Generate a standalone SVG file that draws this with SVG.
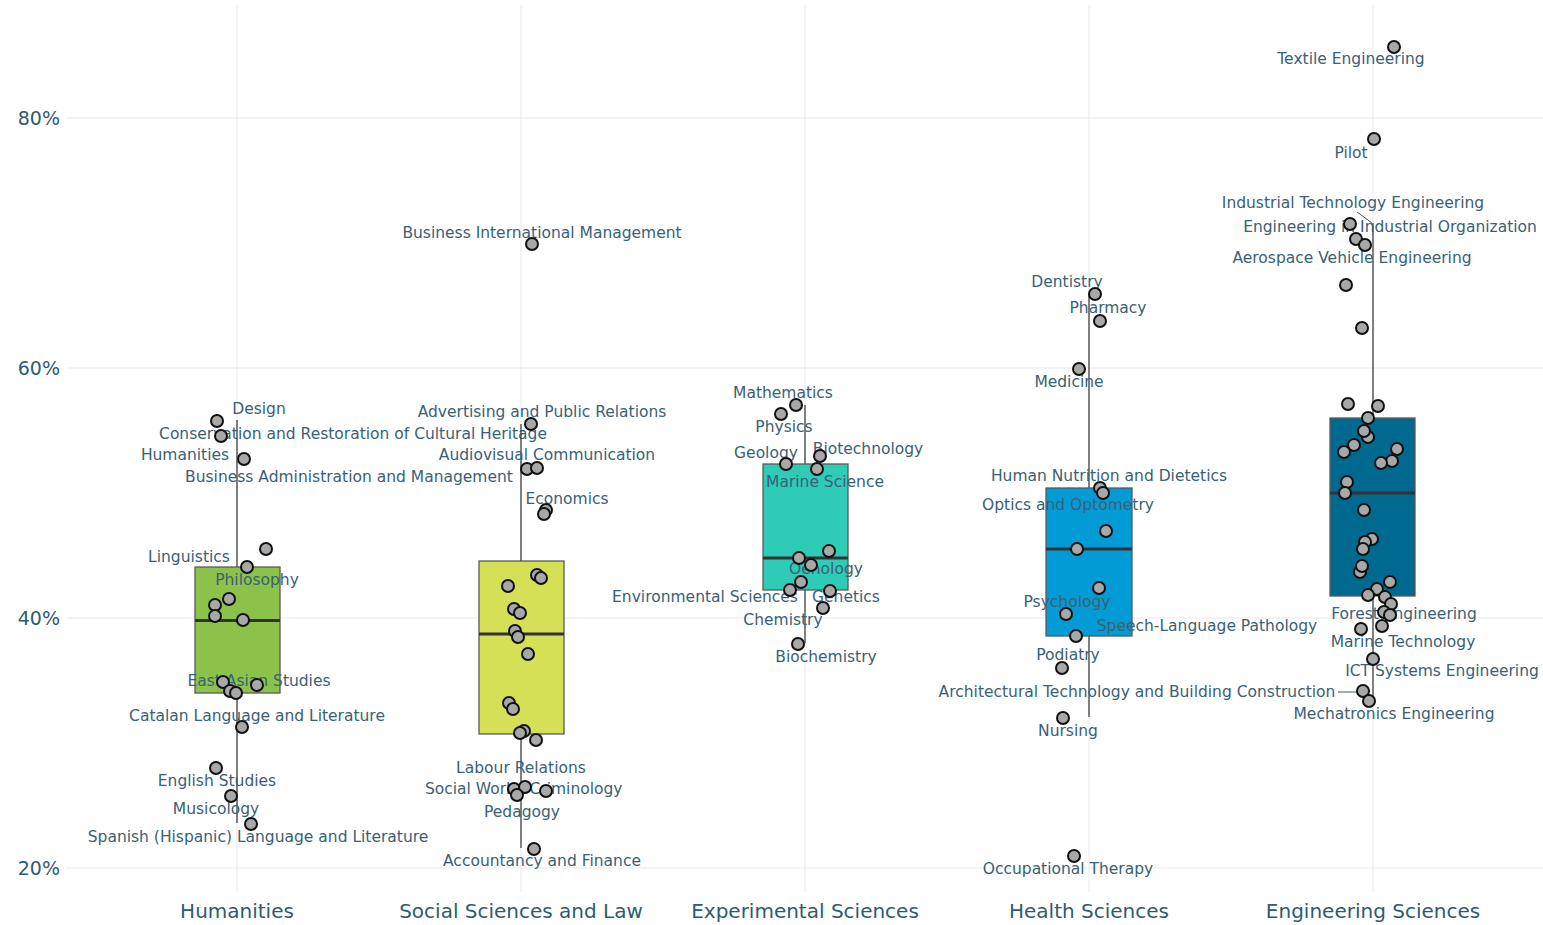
<svg xmlns="http://www.w3.org/2000/svg" width="1543" height="925" viewBox="0 0 1543 925">
<style>
.grid{stroke:#e9e9e9;stroke-width:1;fill:none}
.box{stroke:#5a5a5a;stroke-width:1.3}
.wh{stroke:#333;stroke-width:1.2;fill:none}
.med{stroke:#333;stroke-width:3}
.pt{fill:#a8a8a8;stroke:#111;stroke-width:2}
.lbl{font-family:"DejaVu Sans",sans-serif;font-size:15.5px;fill:#3a6175;text-anchor:middle}
.tick{font-family:"DejaVu Sans",sans-serif;font-size:19px;fill:#2f5b70;text-anchor:end}
.cat{font-family:"DejaVu Sans",sans-serif;font-size:20px;fill:#2f5b70;text-anchor:middle}
.lead{stroke:#3a6175;stroke-width:1;fill:none}
</style>
<rect width="1543" height="925" fill="#fff"/>
<g id="grid">
<path class="grid" d="M67 118H1543M67 368H1543M67 618H1543M67 868H1543M237 5V892M521 5V892M805 5V892M1089 5V892M1373 5V892"/>
</g>
<g id="axes">
<text class="tick" x="60" y="125">80%</text>
<text class="tick" x="60" y="375">60%</text>
<text class="tick" x="60" y="625">40%</text>
<text class="tick" x="60" y="875">20%</text>
<text class="cat" x="237" y="918">Humanities</text>
<text class="cat" x="521" y="918">Social Sciences and Law</text>
<text class="cat" x="805" y="918">Experimental Sciences</text>
<text class="cat" x="1089" y="918">Health Sciences</text>
<text class="cat" x="1373" y="918">Engineering Sciences</text>
</g>
<g id="connectors">
<path class="lead" d="M1357 212L1372 223"/>
<path class="lead" d="M1338 692H1358"/>
</g>
<g id="humanities">
<path class="wh" d="M237 420V567M237 693V823"/>
<rect class="box" x="195" y="567" width="85" height="126" fill="#8bc34a"/>
<path class="med" d="M195 620.5H280"/>
<text class="lbl" x="259" y="414">Design</text>
<text class="lbl" x="353" y="439">Conservation and Restoration of Cultural Heritage</text>
<text class="lbl" x="185" y="460">Humanities</text>
<text class="lbl" x="349" y="482">Business Administration and Management</text>
<text class="lbl" x="189" y="562">Linguistics</text>
<text class="lbl" x="257" y="585">Philosophy</text>
<text class="lbl" x="259" y="686">East Asian Studies</text>
<text class="lbl" x="257" y="721">Catalan Language and Literature</text>
<text class="lbl" x="217" y="786">English Studies</text>
<text class="lbl" x="216" y="814">Musicology</text>
<text class="lbl" x="258" y="842">Spanish (Hispanic) Language and Literature</text>
<g>
<circle class="pt" cx="217" cy="421" r="6"/>
<circle class="pt" cx="221" cy="436" r="6"/>
<circle class="pt" cx="244" cy="459" r="6"/>
<circle class="pt" cx="266" cy="549" r="6"/>
<circle class="pt" cx="247" cy="567" r="6"/>
<circle class="pt" cx="229" cy="599" r="6"/>
<circle class="pt" cx="215" cy="605" r="6"/>
<circle class="pt" cx="215" cy="616" r="6"/>
<circle class="pt" cx="243" cy="620" r="6"/>
<circle class="pt" cx="223" cy="682" r="6"/>
<circle class="pt" cx="257" cy="685" r="6"/>
<circle class="pt" cx="230" cy="691" r="6"/>
<circle class="pt" cx="236" cy="693" r="6"/>
<circle class="pt" cx="242" cy="727" r="6"/>
<circle class="pt" cx="216" cy="768" r="6"/>
<circle class="pt" cx="231" cy="796" r="6"/>
<circle class="pt" cx="251" cy="824" r="6"/>
</g>
</g>
<g id="social-sciences">
<path class="wh" d="M521 424V561M521 734V848"/>
<rect class="box" x="479" y="561" width="85" height="173" fill="#d4e157"/>
<path class="med" d="M479 634H564"/>
<text class="lbl" x="542" y="238">Business International Management</text>
<text class="lbl" x="542" y="417">Advertising and Public Relations</text>
<text class="lbl" x="547" y="460">Audiovisual Communication</text>
<text class="lbl" x="567" y="504">Economics</text>
<text class="lbl" x="521" y="773">Labour Relations</text>
<text class="lbl" x="470" y="794">Social Work</text>
<text class="lbl" x="576" y="794">Criminology</text>
<text class="lbl" x="522" y="817">Pedagogy</text>
<text class="lbl" x="542" y="866">Accountancy and Finance</text>
<g>
<circle class="pt" cx="532" cy="244" r="6"/>
<circle class="pt" cx="531" cy="424" r="6"/>
<circle class="pt" cx="527" cy="469" r="6"/>
<circle class="pt" cx="537" cy="468" r="6"/>
<circle class="pt" cx="546" cy="510" r="6"/>
<circle class="pt" cx="544" cy="514" r="6"/>
<circle class="pt" cx="537" cy="575" r="6"/>
<circle class="pt" cx="541" cy="578" r="6"/>
<circle class="pt" cx="508" cy="586" r="6"/>
<circle class="pt" cx="514" cy="609" r="6"/>
<circle class="pt" cx="520" cy="613" r="6"/>
<circle class="pt" cx="515" cy="631" r="6"/>
<circle class="pt" cx="518" cy="637" r="6"/>
<circle class="pt" cx="528" cy="654" r="6"/>
<circle class="pt" cx="509" cy="703" r="6"/>
<circle class="pt" cx="513" cy="709" r="6"/>
<circle class="pt" cx="524" cy="731" r="6"/>
<circle class="pt" cx="520" cy="733" r="6"/>
<circle class="pt" cx="536" cy="740" r="6"/>
<circle class="pt" cx="514" cy="789" r="6"/>
<circle class="pt" cx="525" cy="787" r="6"/>
<circle class="pt" cx="546" cy="791" r="6"/>
<circle class="pt" cx="517" cy="795" r="6"/>
<circle class="pt" cx="534" cy="849" r="6"/>
</g>
</g>
<g id="experimental-sciences">
<path class="wh" d="M805 405V464M805 590V643"/>
<rect class="box" x="763" y="464" width="85" height="126" fill="#2ecbb7"/>
<path class="med" d="M763 558H848"/>
<text class="lbl" x="783" y="398">Mathematics</text>
<text class="lbl" x="784" y="432">Physics</text>
<text class="lbl" x="766" y="458">Geology</text>
<text class="lbl" x="868" y="454">Biotechnology</text>
<text class="lbl" x="825" y="487">Marine Science</text>
<text class="lbl" x="826" y="574">Oenology</text>
<text class="lbl" x="705" y="602">Environmental Sciences</text>
<text class="lbl" x="846" y="602">Genetics</text>
<text class="lbl" x="783" y="625">Chemistry</text>
<text class="lbl" x="826" y="662">Biochemistry</text>
<g>
<circle class="pt" cx="796" cy="405" r="6"/>
<circle class="pt" cx="781" cy="414" r="6"/>
<circle class="pt" cx="786" cy="464" r="6"/>
<circle class="pt" cx="820" cy="456" r="6"/>
<circle class="pt" cx="817" cy="469" r="6"/>
<circle class="pt" cx="829" cy="551" r="6"/>
<circle class="pt" cx="799" cy="558" r="6"/>
<circle class="pt" cx="811" cy="565" r="6"/>
<circle class="pt" cx="801" cy="582" r="6"/>
<circle class="pt" cx="790" cy="590" r="6"/>
<circle class="pt" cx="830" cy="591" r="6"/>
<circle class="pt" cx="823" cy="608" r="6"/>
<circle class="pt" cx="798" cy="644" r="6"/>
</g>
</g>
<g id="health-sciences">
<path class="wh" d="M1089 293V488M1089 636V717"/>
<rect class="box" x="1046" y="488" width="86" height="148" fill="#039bd5"/>
<path class="med" d="M1046 549H1132"/>
<text class="lbl" x="1067" y="287">Dentistry</text>
<text class="lbl" x="1108" y="313">Pharmacy</text>
<text class="lbl" x="1069" y="387">Medicine</text>
<text class="lbl" x="1109" y="481">Human Nutrition and Dietetics</text>
<text class="lbl" x="1068" y="510">Optics and Optometry</text>
<text class="lbl" x="1067" y="607">Psychology</text>
<text class="lbl" x="1207" y="631">Speech-Language Pathology</text>
<text class="lbl" x="1068" y="660">Podiatry</text>
<text class="lbl" x="1137" y="697">Architectural Technology and Building Construction</text>
<text class="lbl" x="1068" y="736">Nursing</text>
<text class="lbl" x="1068" y="874">Occupational Therapy</text>
<g>
<circle class="pt" cx="1095" cy="294" r="6"/>
<circle class="pt" cx="1100" cy="321" r="6"/>
<circle class="pt" cx="1079" cy="369" r="6"/>
<circle class="pt" cx="1100" cy="488" r="6"/>
<circle class="pt" cx="1103" cy="493" r="6"/>
<circle class="pt" cx="1106" cy="531" r="6"/>
<circle class="pt" cx="1077" cy="549" r="6"/>
<circle class="pt" cx="1099" cy="588" r="6"/>
<circle class="pt" cx="1066" cy="614" r="6"/>
<circle class="pt" cx="1076" cy="636" r="6"/>
<circle class="pt" cx="1062" cy="668" r="6"/>
<circle class="pt" cx="1063" cy="718" r="6"/>
<circle class="pt" cx="1074" cy="856" r="6"/>
</g>
</g>
<g id="engineering-sciences">
<path class="wh" d="M1373 223V418M1373 596V697"/>
<rect class="box" x="1330" y="418" width="85" height="178" fill="#00698f"/>
<path class="med" d="M1330 493H1415"/>
<text class="lbl" x="1351" y="64">Textile Engineering</text>
<text class="lbl" x="1351" y="158">Pilot</text>
<text class="lbl" x="1353" y="208">Industrial Technology Engineering</text>
<text class="lbl" x="1390" y="232">Engineering in Industrial Organization</text>
<text class="lbl" x="1352" y="263">Aerospace Vehicle Engineering</text>
<text class="lbl" x="1404" y="619">Forest Engineering</text>
<text class="lbl" x="1403" y="647">Marine Technology</text>
<text class="lbl" x="1442" y="676">ICT Systems Engineering</text>
<text class="lbl" x="1394" y="719">Mechatronics Engineering</text>
<g>
<circle class="pt" cx="1394" cy="47" r="6"/>
<circle class="pt" cx="1374" cy="139" r="6"/>
<circle class="pt" cx="1350" cy="224" r="6"/>
<circle class="pt" cx="1356" cy="239" r="6"/>
<circle class="pt" cx="1365" cy="245" r="6"/>
<circle class="pt" cx="1346" cy="285" r="6"/>
<circle class="pt" cx="1362" cy="328" r="6"/>
<circle class="pt" cx="1348" cy="404" r="6"/>
<circle class="pt" cx="1378" cy="406" r="6"/>
<circle class="pt" cx="1368" cy="418" r="6"/>
<circle class="pt" cx="1368" cy="437" r="6"/>
<circle class="pt" cx="1364" cy="431" r="6"/>
<circle class="pt" cx="1354" cy="445" r="6"/>
<circle class="pt" cx="1344" cy="452" r="6"/>
<circle class="pt" cx="1397" cy="449" r="6"/>
<circle class="pt" cx="1392" cy="461" r="6"/>
<circle class="pt" cx="1381" cy="463" r="6"/>
<circle class="pt" cx="1347" cy="482" r="6"/>
<circle class="pt" cx="1345" cy="493" r="6"/>
<circle class="pt" cx="1364" cy="510" r="6"/>
<circle class="pt" cx="1372" cy="539" r="6"/>
<circle class="pt" cx="1365" cy="542" r="6"/>
<circle class="pt" cx="1363" cy="549" r="6"/>
<circle class="pt" cx="1360" cy="572" r="6"/>
<circle class="pt" cx="1362" cy="566" r="6"/>
<circle class="pt" cx="1390" cy="582" r="6"/>
<circle class="pt" cx="1377" cy="589" r="6"/>
<circle class="pt" cx="1368" cy="595" r="6"/>
<circle class="pt" cx="1385" cy="597" r="6"/>
<circle class="pt" cx="1391" cy="604" r="6"/>
<circle class="pt" cx="1384" cy="612" r="6"/>
<circle class="pt" cx="1390" cy="615" r="6"/>
<circle class="pt" cx="1382" cy="626" r="6"/>
<circle class="pt" cx="1361" cy="629" r="6"/>
<circle class="pt" cx="1373" cy="659" r="6"/>
<circle class="pt" cx="1363" cy="691" r="6"/>
<circle class="pt" cx="1369" cy="701" r="6"/>
</g>
</g>
</svg>
